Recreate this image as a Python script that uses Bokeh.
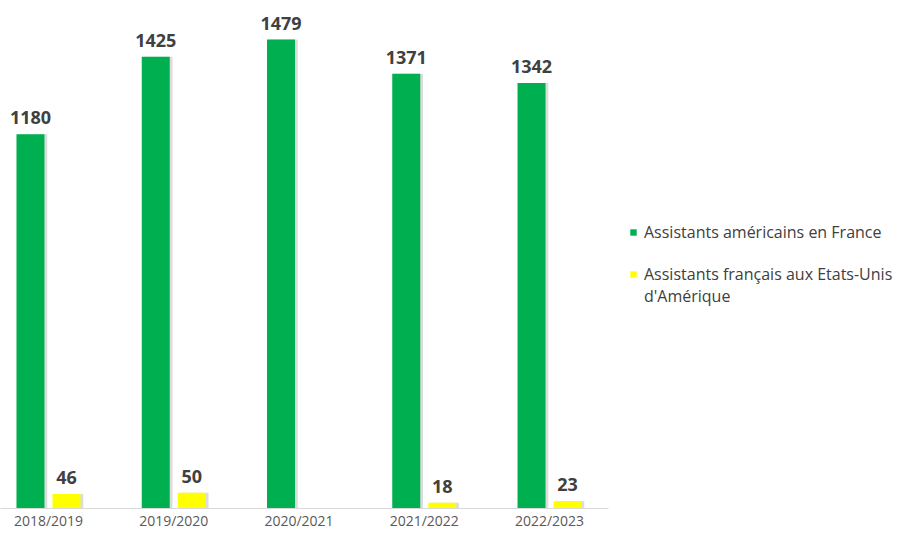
import numpy as np
from bokeh.plotting import figure
from bokeh.models import ColumnDataSource, Range1d, FixedTicker, Legend, LegendItem
from bokeh.transform import dodge
from bokeh.core.properties import value
from bokeh.embed import file_html
from bokeh.resources import INLINE

categories = ["2018/2019", "2019/2020", "2020/2021", "2021/2022", "2022/2023"]
americains = [1180, 1425, 1479, 1371, 1342]
francais = [46, 50, np.nan, 18, 23]
series_am = "Assistants américains en France"
series_fr_lines = ["Assistants français aux Etats-Unis", "d'Amérique"]

GREEN = "#00b050"
YELLOW = "#ffff00"
FONT = "Open Sans"

idx = list(range(len(categories)))
src = ColumnDataSource(dict(
    x=idx,
    am=americains,
    fr=francais,
    am_lbl=[str(v) for v in americains],
    fr_lbl=["" if np.isnan(v) else str(int(v)) for v in francais],
))

p = figure(width=900, height=532, output_backend="svg",
           toolbar_location=None, x_range=Range1d(-0.383, 6.802),
           y_range=Range1d(0, 1602), min_border_left=0, min_border_top=0,
           min_border_right=0, min_border_bottom=20)
p.outline_line_color = None
p.xgrid.grid_line_color = None
p.ygrid.grid_line_color = None
p.yaxis.visible = False

bw = 0.2236
off = 0.1437
sh = 0.022

# soft shadows
for dx, col in [(-off, "am"), (off, "fr")]:
    p.vbar(x=dodge("x", dx + sh, range=p.x_range), top=col, width=bw,
           source=src, fill_color="#9a9a9a", fill_alpha=0.35, line_color=None)

r_am = p.vbar(x=dodge("x", -off, range=p.x_range), top="am", width=bw,
              source=src, fill_color=GREEN, line_color=None)
r_fr = p.vbar(x=dodge("x", off, range=p.x_range), top="fr", width=bw,
              source=src, fill_color=YELLOW, line_color=None)
# invisible renderer carrying the legend's wrapped second line
r_wrap = p.vbar(x=[], top=[], width=bw, fill_alpha=0, line_alpha=0)

for dx, col, lbl in [(-off, "am", "am_lbl"), (off, "fr", "fr_lbl")]:
    p.text(x=dodge("x", dx, range=p.x_range), y=col, text=lbl, source=src,
           text_align="center", text_baseline="bottom", y_offset=-10,
           text_font=value(FONT), text_font_style="bold",
           text_font_size="18px", text_color="#404040")

ax = p.xaxis[0]
ax.ticker = FixedTicker(ticks=idx)
ax.bounds = (-0.383, 4.471)
ax.major_label_overrides = {i: c for i, c in zip(idx, categories)}
ax.major_tick_line_color = None
ax.minor_tick_line_color = None
ax.major_tick_out = 0
ax.major_tick_in = 0
ax.minor_tick_out = 0
ax.axis_line_color = "#d9d9d9"
ax.axis_line_width = 1
ax.major_label_standoff = 2
ax.major_label_text_font = FONT
ax.major_label_text_font_size = "14px"
ax.major_label_text_color = "#595959"

common = dict(padding=0, margin=0, glyph_width=8, glyph_height=8,
              label_standoff=7, label_text_font=FONT,
              label_text_font_size="16px", label_text_color="#404040",
              border_line_color=None, background_fill_alpha=0)

leg_a = Legend(items=[LegendItem(label=series_am, renderers=[r_am])],
               location=(629, 265), label_height=20, spacing=0, **common)
leg_b = Legend(items=[LegendItem(label=series_fr_lines[0], renderers=[r_fr]),
                      LegendItem(label=series_fr_lines[1], renderers=[r_wrap])],
               location=(629, 201), label_height=19, spacing=-4, **common)
p.add_layout(leg_a)
p.add_layout(leg_b)

open("out.html", "w").write(file_html(p, INLINE))
